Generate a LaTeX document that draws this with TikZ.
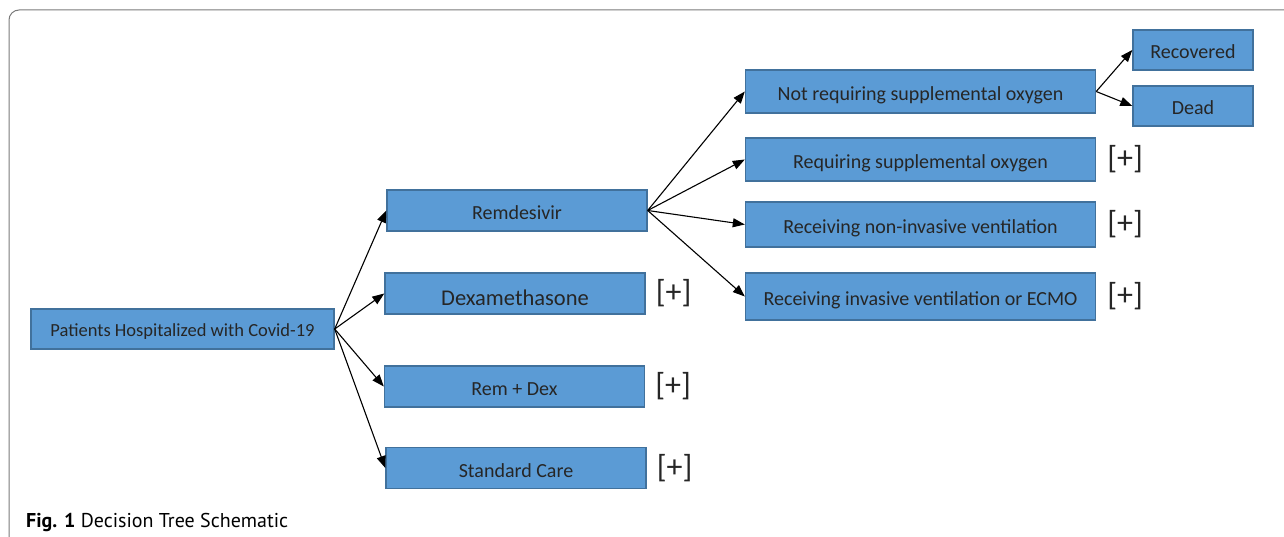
\documentclass[tikz,border=0pt]{standalone}
\usepackage{fontspec}
\setmainfont{Carlito}
\newfontfamily\captionfont{PT Sans}
\usetikzlibrary{positioning, arrows.meta}

\definecolor{boxblue}{HTML}{5B9BD5}
\definecolor{boxedge}{HTML}{41719C}
\definecolor{framegray}{HTML}{7A7A7A}

\begin{document}
\begin{tikzpicture}[
    x=1pt, y=-1pt,
    every node/.style={font=\fontsize{20}{24}\selectfont},
    block/.style={
        rectangle, draw=boxedge, fill=boxblue, line width=1.4pt,
        align=center, inner sep=0pt, text=black!85,
        text height=18pt, text depth=0pt,
        minimum height=41pt, minimum width=260pt
    },
    wideblock/.style={block, minimum width=350pt},
    endblock/.style={block, minimum width=120pt, minimum height=40pt},
    more/.style={font=\fontsize{32}{34}\selectfont, inner sep=0pt, text=black!85},
    arrow/.style={-{Triangle[length=12pt, width=9pt]}, line width=1.1pt}
]
\useasboundingbox (0,0) rectangle (1284,537);

% frame
\draw[framegray, line width=1pt, rounded corners=10pt] (9,540) -- (9,10) -- (1290,10);

% --- root ---
\node[block, minimum width=303pt, minimum height=40pt, text height=14pt,
      font=\fontsize{18.5}{22}\selectfont] (root) at (182.5,329) {Patients Hospitalized with Covid-19};

% --- treatments ---
\node[block] (rem)    at (517,210.5) {Remdesivir};
\node[block, text height=23pt, font=\fontsize{22.5}{26}\selectfont] (dex) at (515,293.5) {Dexamethasone};
\node[block] (remdex) at (514.5,386.5) {Rem + Dex};
\node[block] (sc)     at (516,468) {Standard Care};

\node[more, right=10pt of dex]    (dexplus)    {[+]};
\node[more, right=10pt of remdex] (remdexplus) {[+]};
\node[more, right=10pt of sc]     (scplus)     {[+]};

% --- disease states ---
\node[wideblock, minimum height=43pt] (notreq) at (920.5,91.5)  {Not requiring supplemental oxygen};
\node[wideblock, minimum height=43pt] (req)    at (920.5,159.5) {Requiring supplemental oxygen};
\node[wideblock, minimum height=45pt] (niv)    at (920.5,224.5) {Receiving non-invasive ventilation};
\node[wideblock, minimum height=47pt] (iv)     at (920.5,296.5) {Receiving invasive ventilation or ECMO};

\node[more, right=11pt of req] (reqplus) {[+]};
\node[more, right=11pt of niv] (nivplus) {[+]};
\node[more, right=11pt of iv]  (ivplus)  {[+]};

% --- outcomes ---
\node[endblock] (rec)  at (1193,50)  {Recovered};
\node[endblock] (dead) at (1193,106) {Dead};

% --- Arrows ---
\foreach \t in {rem, dex, remdex, sc}
    \draw[arrow] (root.east) -- (\t.west);
\foreach \t in {notreq, req, niv, iv}
    \draw[arrow] (rem.east) -- (\t.west);
\draw[arrow] (notreq.east) -- (rec.west);
\draw[arrow] (notreq.east) -- (dead.west);

% caption
\node[anchor=base west, inner sep=0pt, font=\captionfont\fontsize{20}{24}\selectfont] (caption)
    at (26,527) {\textbf{Fig. 1} Decision Tree Schematic};
\end{tikzpicture}
\end{document}
